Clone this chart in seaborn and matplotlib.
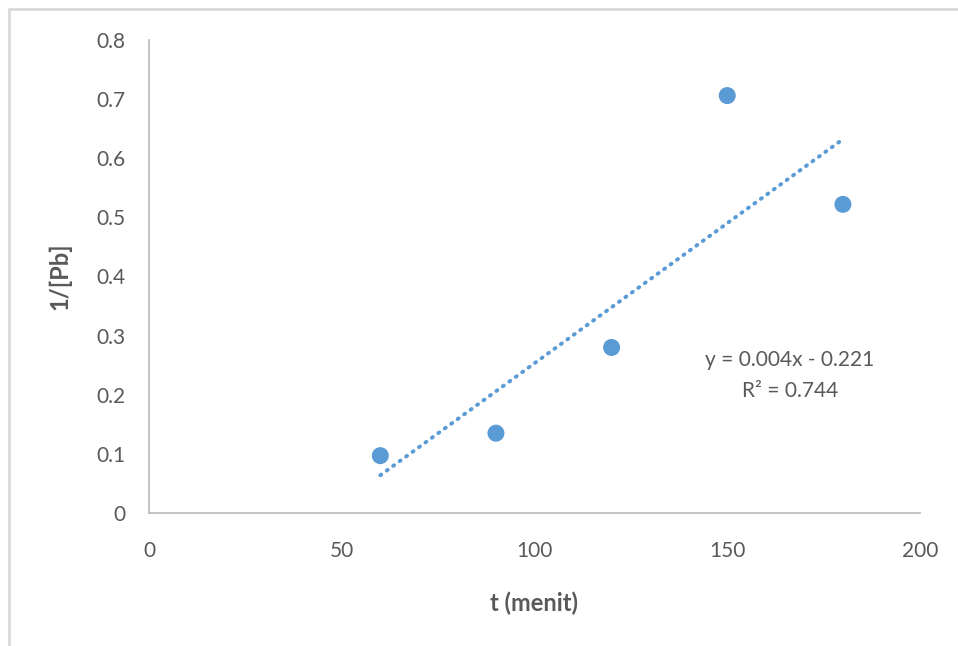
import numpy as np
import pandas as pd
import seaborn as sns
import matplotlib
matplotlib.use("Agg")
import matplotlib.pyplot as plt
from matplotlib.patches import Rectangle

# Data
t_menit = [60, 90, 120, 150, 180]
inv_pb = [0.097, 0.135, 0.280, 0.706, 0.522]
x_ticks = [0, 50, 100, 150, 200]
y_ticks = [0, 0.1, 0.2, 0.3, 0.4, 0.5, 0.6, 0.7, 0.8]
eq_text = "y = 0.004x - 0.221"
r2_text = "R² = 0.744"

sns.set_theme(style="white")
plt.rcParams['font.family'] = ['Lato', 'DejaVu Sans']

grey = "#595959"
blue = "#5B9BD5"

fig = plt.figure(figsize=(9.58, 6.46), dpi=100)
ax = fig.add_axes([149/958, 1-513/646, (920-149)/958, (513-40)/646])

df = pd.DataFrame({"t": t_menit, "y": inv_pb})

# Trendline (linear least squares) drawn from first to last x
slope, intercept = np.polyfit(df["t"], df["y"], 1)
xs = np.array([df["t"].min(), df["t"].max()])
fit = pd.DataFrame({"t": xs, "y": slope * xs + intercept})
sns.lineplot(data=fit, x="t", y="y", ax=ax, color=blue, lw=2.8,
             linestyle=(0, (0.3, 1.75)), dash_capstyle="round", zorder=2)

sns.scatterplot(data=df, x="t", y="y", ax=ax, color=blue, s=150,
                edgecolor="none", zorder=3)

ax.set_xlim(0, 200)
ax.set_ylim(0, 0.8)
ax.set_xticks(x_ticks)
ax.set_xticklabels([str(v) for v in x_ticks])
ax.set_yticks(y_ticks)
ax.set_yticklabels(["0"] + [f"{v:.1f}" for v in y_ticks[1:]])
ax.tick_params(axis="both", length=0, labelsize=15, colors=grey)
ax.tick_params(axis="y", pad=17)
ax.tick_params(axis="x", pad=20)

for s in ["top", "right"]:
    ax.spines[s].set_visible(False)
for s in ["left", "bottom"]:
    ax.spines[s].set_color("#BFBFBF")
    ax.spines[s].set_linewidth(1.3)

ax.set_xlabel("t (menit)", fontsize=17, fontweight="bold", color=grey, labelpad=22)
ax.set_ylabel("1/[Pb]", fontsize=17, fontweight="bold", color=grey, labelpad=18)

ax.text(166.3, 0.259, eq_text, ha="center", va="center", fontsize=15, color=grey)
ax.text(166.3, 0.206, r2_text, ha="center", va="center", fontsize=15, color=grey)

# outer chart border
fig.patches.append(Rectangle((8.5/958, -0.1), 1.2, 1 - 9/646 + 0.1,
                             transform=fig.transFigure, fill=False,
                             edgecolor="#D9D9D9", linewidth=2))

fig.savefig("out.png", dpi=100)
